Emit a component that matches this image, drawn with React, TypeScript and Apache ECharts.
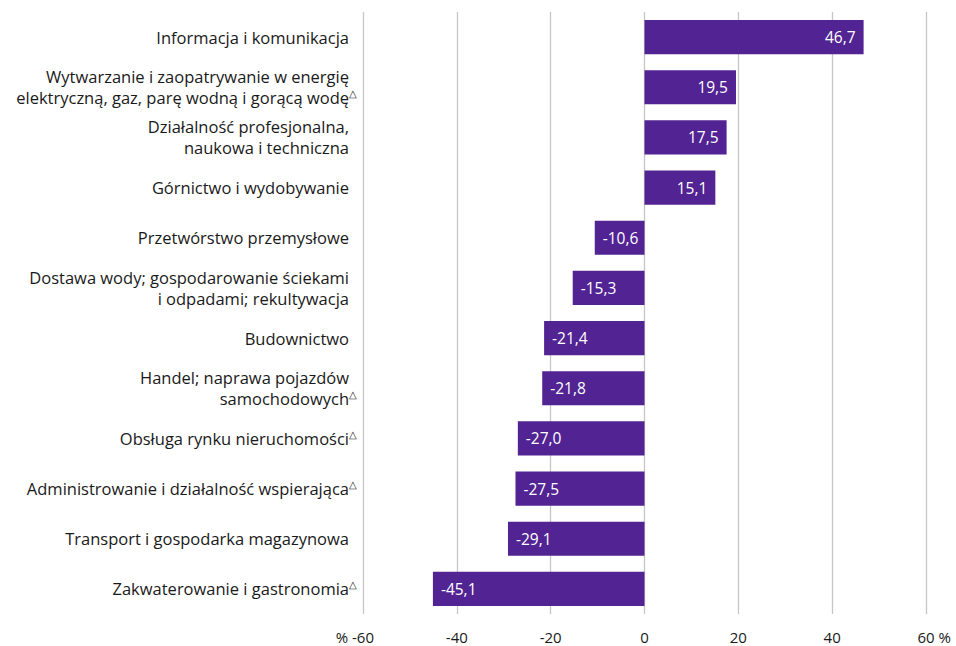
import React, { useEffect, useRef } from "react";
import * as echarts from "echarts";

const categories: string[] = [
  "Informacja i komunikacja",
  "Wytwarzanie i zaopatrywanie w energię\nelektryczną, gaz, parę wodną i gorącą wodę",
  "Działalność profesjonalna,\nnaukowa i techniczna",
  "Górnictwo i wydobywanie",
  "Przetwórstwo przemysłowe",
  "Dostawa wody; gospodarowanie ściekami\ni odpadami; rekultywacja",
  "Budownictwo",
  "Handel; naprawa pojazdów\nsamochodowych",
  "Obsługa rynku nieruchomości",
  "Administrowanie i działalność wspierająca",
  "Transport i gospodarka magazynowa",
  "Zakwaterowanie i gastronomia",
];
const marked: boolean[] = [false, true, false, false, false, false, false, true, true, true, false, true];
const values: number[] = [46.7, 19.5, 17.5, 15.1, -10.6, -15.3, -21.4, -21.8, -27.0, -27.5, -29.1, -45.1];
const xMin = -60;
const xMax = 60;
const xStep = 20;

const FONT = "'Open Sans', sans-serif";

export default function App() {
  const ref = useRef<HTMLDivElement>(null);
  useEffect(() => {
    document.body.style.margin = "0";
    if (!ref.current) return;
    const chart = echarts.init(ref.current, undefined, { renderer: "svg" });
    const catIndex: Record<string, number> = {};
    categories.forEach((c, i) => (catIndex[c] = i));
    chart.setOption({
      animation: false,
      grid: { left: 363, right: 30, top: 12, bottom: 32, containLabel: false },
      xAxis: {
        type: "value",
        min: xMin,
        max: xMax,
        interval: xStep,
        axisLine: { show: false },
        axisTick: { show: false },
        splitLine: { show: true, lineStyle: { color: "#c6c6c6", width: 1.3 } },
        axisLabel: {
          margin: 15,
          color: "#1a1a1a",
          fontFamily: FONT,
          fontSize: 15,
          formatter: (v: number) => {
            if (v === xMin) return `{p|% }${v}{h|% }`;
            if (v === xMax) return `{h|% }${v}{p| %}`;
            return String(v);
          },
          rich: {
            p: { color: "#1a1a1a", fontFamily: FONT, fontSize: 15 },
            h: { color: "transparent", fontFamily: FONT, fontSize: 15 },
          },
        },
      },
      yAxis: {
        type: "category",
        data: categories,
        inverse: true,
        axisLine: { show: false },
        axisTick: { show: false },
        splitLine: { show: false },
        axisLabel: {
          margin: 6,
          color: "#1a1a1a",
          fontFamily: FONT,
          fontSize: 16.5,
          lineHeight: 21,
          align: "right",
          formatter: (v: string) => {
            const idx = catIndex[v];
            const lines = v.split("\n");
            return lines
              .map((ln, i) => {
                const last = i === lines.length - 1;
                const tri = last && marked[idx] ? "{t|△}" : "{s|△}";
                return `{a|${ln}}${tri}`;
              })
              .join("\n");
          },
          rich: {
            a: { color: "#1a1a1a", fontFamily: FONT, fontSize: 16.5, lineHeight: 21 },
            t: { color: "#1a1a1a", fontFamily: FONT, fontSize: 10, lineHeight: 21, padding: [0, 0, 9, 0] },
            s: { color: "transparent", fontFamily: FONT, fontSize: 10, lineHeight: 21, padding: [0, 0, 9, 0] },
          },
        },
      },
      series: [
        {
          type: "bar",
          barCategoryGap: "32%",
          itemStyle: { color: "#522393" },
          data: values.map((v) => ({
            value: v,
            label: {
              show: true,
              position: v >= 0 ? "insideRight" : "insideLeft",
              distance: 8,
              color: "#ffffff",
              fontFamily: FONT,
              fontSize: 15.5,
              formatter: () => v.toFixed(1).replace(".", ","),
            },
          })),
        },
      ],
    });
    return () => chart.dispose();
  }, []);
  return <div ref={ref} style={{ width: 956, height: 646 }} />;
}
